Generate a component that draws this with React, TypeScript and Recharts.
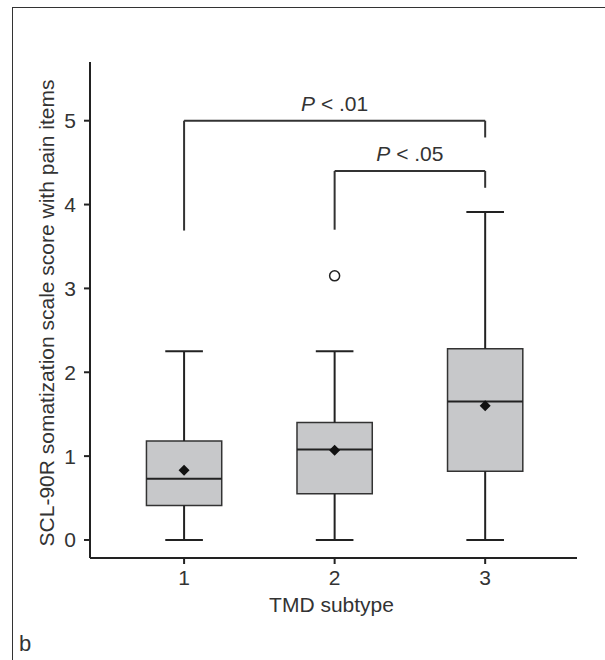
import React from 'react';
import { ComposedChart, XAxis, YAxis, Scatter, ReferenceArea, ReferenceLine } from 'recharts';

// ---- data ----
const categories = [1, 2, 3];
const whiskerLow = [0, 0, 0];
const q1 = [0.41, 0.55, 0.82];
const median = [0.73, 1.08, 1.65];
const q3 = [1.18, 1.4, 2.28];
const whiskerHigh = [2.25, 2.25, 3.91];
const means = [0.83, 1.07, 1.6];
const outlierX = [2];
const outlierY = [3.15];
const yTicks = [0, 1, 2, 3, 4, 5];

// significance brackets: from group, to group, bar height, left leg end, right leg end, p-label
const bracketFrom = [1, 2];
const bracketTo = [3, 3];
const bracketTop = [5.0, 4.4];
const bracketLeftEnd = [3.69, 3.7];
const bracketRightEnd = [4.8, 4.2];
const bracketText = ['.01', '.05'];

const FONT = '"Liberation Sans", Arial, Helvetica, sans-serif';
const TEXT = '#333';
const LINE = '#222';
const BOX_HALF = 0.25;
const CAP_HALF = 0.125;

const meanData = categories.map((c, i) => ({ x: c, y: means[i] }));
const outlierData = outlierX.map((x, i) => ({ x, y: outlierY[i] }));

const Diamond = (props: any) => {
  const { cx, cy } = props;
  const s = 5.5;
  return <polygon points={`${cx},${cy - s} ${cx + s},${cy} ${cx},${cy + s} ${cx - s},${cy}`} fill="#111" />;
};

const OpenCircle = (props: any) => {
  const { cx, cy } = props;
  return <circle cx={cx} cy={cy} r={5} fill="#fff" stroke={LINE} strokeWidth={1.5} />;
};

const makePLabel = (value: string) => (props: any) => {
  const vb = props.viewBox || {};
  const x = vb.x + (vb.width || 0) / 2;
  const y = vb.y - 10;
  return (
    <text x={x} y={y} textAnchor="middle" fontSize={21} fill={TEXT} fontFamily={FONT}>
      <tspan fontStyle="italic">P</tspan>
      {` < ${value}`}
    </text>
  );
};

const YLabel = (props: any) => {
  const vb = props.viewBox || {};
  const x = vb.x + 24;
  const y = vb.y + vb.height / 2 + 3;
  return (
    <text x={x} y={y} transform={`rotate(-90, ${x}, ${y})`} textAnchor="middle" fontSize={21} fill={TEXT} fontFamily={FONT}>
      SCL-90R somatization scale score with pain items
    </text>
  );
};

const XLabel = (props: any) => {
  const vb = props.viewBox || {};
  const x = vb.x + vb.width / 2 - 2;
  const y = vb.y + vb.height + 14;
  return (
    <text x={x} y={y} textAnchor="middle" fontSize={21} fill={TEXT} fontFamily={FONT}>
      TMD subtype
    </text>
  );
};

export default function App() {
  return (
    <div style={{ position: 'absolute', left: 0, top: 0, width: 605, height: 660, background: '#fff' }}>
      <div
        style={{
          position: 'absolute',
          left: 12,
          top: 7,
          width: 605 - 12,
          height: 660 - 7,
          borderTop: '1.5px solid #333',
          borderLeft: '1.5px solid #333',
          boxSizing: 'border-box',
        }}
      />
      <div
        style={{
          position: 'absolute',
          left: 19,
          top: 632,
          fontFamily: FONT,
          fontSize: 22,
          color: TEXT,
          lineHeight: '24px',
        }}
      >
        b
      </div>
      <div style={{ position: 'absolute', left: 0, top: 0 }}>
        <ComposedChart width={605} height={660} margin={{ top: 62, right: 28, left: 30, bottom: 62 }}>
          <XAxis
            type="number"
            dataKey="x"
            domain={[0.375, 3.61]}
            ticks={categories}
            allowDataOverflow
            height={40}
            tickSize={6}
            tickMargin={6}
            axisLine={{ stroke: LINE, strokeWidth: 2 }}
            tickLine={{ stroke: LINE, strokeWidth: 2 }}
            tick={{ fill: TEXT, fontSize: 21, fontFamily: FONT }}
            label={{ content: XLabel }}
          />
          <YAxis
            type="number"
            dataKey="y"
            domain={[-0.215, 5.7]}
            ticks={yTicks}
            allowDataOverflow
            width={60}
            tickSize={6}
            tickMargin={8}
            axisLine={{ stroke: LINE, strokeWidth: 2 }}
            tickLine={{ stroke: LINE, strokeWidth: 2 }}
            tick={{ fill: TEXT, fontSize: 21, fontFamily: FONT }}
            label={{ content: YLabel }}
          />
          {categories.map((c, i) => (
            <ReferenceArea
              key={`box${c}`}
              x1={c - BOX_HALF}
              x2={c + BOX_HALF}
              y1={q1[i]}
              y2={q3[i]}
              fill="#c7c8ca"
              fillOpacity={1}
              stroke="#333"
              strokeWidth={1.5}
              isFront={false}
            />
          ))}
          {categories.map((c, i) => (
            <ReferenceLine
              key={`med${c}`}
              segment={[{ x: c - BOX_HALF, y: median[i] }, { x: c + BOX_HALF, y: median[i] }]}
              stroke={LINE}
              strokeWidth={2}
            />
          ))}
          {categories.map((c, i) => (
            <ReferenceLine
              key={`wu${c}`}
              segment={[{ x: c, y: q3[i] }, { x: c, y: whiskerHigh[i] }]}
              stroke={LINE}
              strokeWidth={2}
            />
          ))}
          {categories.map((c, i) => (
            <ReferenceLine
              key={`wl${c}`}
              segment={[{ x: c, y: whiskerLow[i] }, { x: c, y: q1[i] }]}
              stroke={LINE}
              strokeWidth={2}
            />
          ))}
          {categories.map((c, i) => (
            <ReferenceLine
              key={`cu${c}`}
              segment={[{ x: c - CAP_HALF, y: whiskerHigh[i] }, { x: c + CAP_HALF, y: whiskerHigh[i] }]}
              stroke={LINE}
              strokeWidth={2}
            />
          ))}
          {categories.map((c, i) => (
            <ReferenceLine
              key={`cl${c}`}
              segment={[{ x: c - CAP_HALF, y: whiskerLow[i] }, { x: c + CAP_HALF, y: whiskerLow[i] }]}
              stroke={LINE}
              strokeWidth={2}
            />
          ))}
          {bracketFrom.map((f, i) => (
            <ReferenceLine
              key={`bl${i}`}
              segment={[{ x: f, y: bracketLeftEnd[i] }, { x: f, y: bracketTop[i] }]}
              stroke="#333"
              strokeWidth={2}
            />
          ))}
          {bracketFrom.map((f, i) => (
            <ReferenceLine
              key={`br${i}`}
              segment={[{ x: bracketTo[i], y: bracketRightEnd[i] }, { x: bracketTo[i], y: bracketTop[i] }]}
              stroke="#333"
              strokeWidth={2}
            />
          ))}
          {bracketFrom.map((f, i) => (
            <ReferenceLine
              key={`bt${i}`}
              segment={[{ x: f, y: bracketTop[i] }, { x: bracketTo[i], y: bracketTop[i] }]}
              stroke="#333"
              strokeWidth={2}
              label={makePLabel(bracketText[i])}
            />
          ))}
          <Scatter data={meanData} shape={Diamond} isAnimationActive={false} />
          <Scatter data={outlierData} shape={OpenCircle} isAnimationActive={false} />
        </ComposedChart>
      </div>
    </div>
  );
}
